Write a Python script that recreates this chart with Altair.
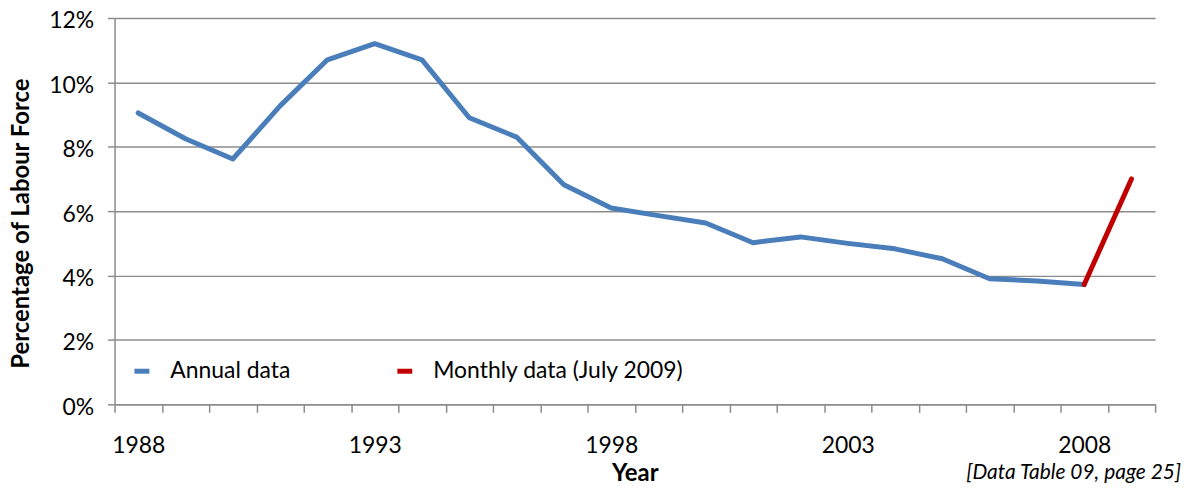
import altair as alt
import pandas as pd

years_annual = list(range(1988, 2009))
annual = [9.05, 8.25, 7.62, 9.27, 10.7, 11.2, 10.7, 8.9, 8.3, 6.82, 6.1,
          5.86, 5.63, 5.02, 5.2, 5.0, 4.83, 4.52, 3.9, 3.83, 3.72]
years_monthly = [2008, 2009]
monthly = [3.72, 7.0]

series_names = ["Annual data", "Monthly data (July 2009)"]
series_colors = ["#4A7EBB", "#C00000"]

tick_years = [y + 0.5 for y in range(1987, 2010)]
y_ticks = [0, 2, 4, 6, 8, 10, 12]

df = pd.DataFrame(
    {"Year": years_annual + years_monthly,
     "Value": annual + monthly,
     "Series": [series_names[0]] * len(annual) + [series_names[1]] * len(monthly)}
)

FONT = "Lato"
GRID = "#8c8c8c"

line = alt.Chart(df).mark_line(strokeWidth=5, strokeCap="round", strokeJoin="round").encode(
    x=alt.X("Year:Q",
            scale=alt.Scale(domain=[1987.5, 2009.5], nice=False, zero=False),
            axis=alt.Axis(
                title="Year", values=tick_years,
                labelExpr="(datum.value + 0.5) % 5 == 3 ? format(datum.value + 0.5, 'd') : ''",
                labelOffset=23.75, labelAlign="center",
                labelOverlap=False, labelBound=False, labelFlush=False,
                grid=False, domainColor=GRID, domainWidth=1.5, tickColor=GRID, tickWidth=1.5,
                tickSize=8, labelPadding=22, labelFontSize=23, labelFont=FONT, labelColor="#000",
                titleFont=FONT, titleFontSize=24, titleFontWeight="bold", titleColor="#000",
                titlePadding=4)),
    y=alt.Y("Value:Q",
            scale=alt.Scale(domain=[0, 12], nice=False),
            axis=alt.Axis(
                title="Percentage of Labour Force", values=y_ticks,
                labelExpr="datum.value + '%'", labelOffset=3,
                grid=True, gridColor=GRID, gridWidth=1.5,
                domainColor=GRID, domainWidth=1.5, tickColor=GRID, tickWidth=1.5, tickSize=7,
                labelPadding=14, labelFontSize=23, labelFont=FONT, labelColor="#000",
                titleFont=FONT, titleFontSize=24, titleFontWeight="bold", titleColor="#000",
                titleX=-93, titleY=206, titleAngle=270, titleAlign="center",
                titleBaseline="middle")),
    color=alt.Color("Series:N",
                    scale=alt.Scale(domain=series_names, range=series_colors),
                    legend=alt.Legend(
                        title=None, orient="none", legendX=16, legendY=343,
                        direction="horizontal", symbolType="stroke", symbolStrokeWidth=5,
                        symbolSize=225, labelFontSize=23, labelFont=FONT, labelColor="#000",
                        labelOffset=17, columnPadding=97, labelLimit=400)),
)

source = alt.Chart(pd.DataFrame({"t": ["[Data Table 09, page 25]"]})).mark_text(
    align="right", baseline="middle", fontStyle="italic", fontSize=21, font=FONT, color="#000"
).encode(x=alt.value(1071), y=alt.value(457), text="t:N")

chart = alt.layer(line, source).properties(
    width=1045, height=388,
    autosize=alt.AutoSizeParams(type="none"),
    padding={"left": 107, "top": 9, "right": 30, "bottom": 80},
).configure_view(stroke=None)

chart.save("out.html", embed_options={"renderer": "svg", "actions": False})
